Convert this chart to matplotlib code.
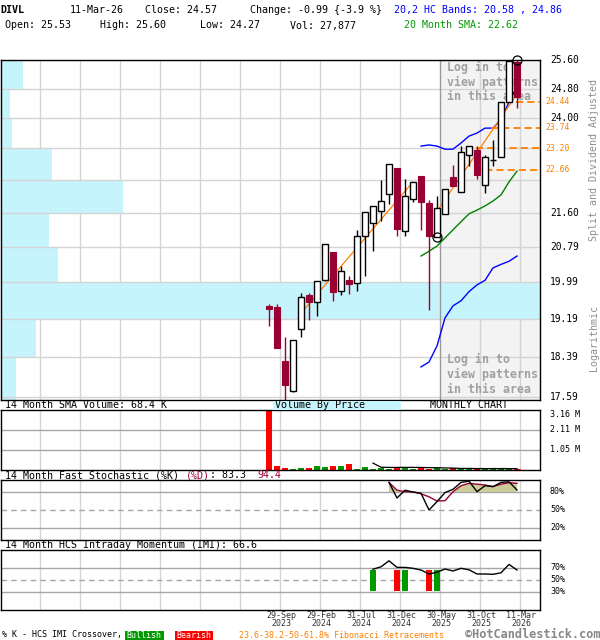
import numpy as np
import matplotlib
matplotlib.use("Agg")
import matplotlib.pyplot as plt
from matplotlib.patches import Rectangle
from matplotlib.ticker import NullLocator
from matplotlib.transforms import blended_transform_factory as blend

W, H = 600, 640
MONO = "DejaVu Sans Mono"
MAROON = "#990033"
UPVOL = "#009a00"
DNVOL = "#ff0000"
ORANGE = "#ff8000"
GRID = "#d4d4d4"
GRID2 = "#a6a6a6"
VBP_COLOR = "#c6f4fc"

# ---- DIVL monthly bars, Aug-2023 .. Mar-2026 ----
months = ["Aug-23", "Sep-23", "Oct-23", "Nov-23", "Dec-23", "Jan-24", "Feb-24", "Mar-24",
          "Apr-24", "May-24", "Jun-24", "Jul-24", "Aug-24", "Sep-24", "Oct-24", "Nov-24",
          "Dec-24", "Jan-25", "Feb-25", "Mar-25", "Apr-25", "May-25", "Jun-25", "Jul-25",
          "Aug-25", "Sep-25", "Oct-25", "Nov-25", "Dec-25", "Jan-26", "Feb-26", "Mar-26"]
opens = [19.47, 19.45, 18.31, 17.70, 18.97, 19.70, 19.55, 20.03, 20.67, 19.80, 20.04, 19.98,
         21.04, 21.35, 21.63, 22.05, 22.70, 21.17, 21.92, 22.50, 21.83, 21.03, 21.56, 22.48,
         22.09, 23.03, 23.16, 22.27, 22.90, 22.97, 24.44, 25.53]
highs = [19.51, 19.51, 18.80, 18.75, 19.74, 19.74, 20.01, 20.86, 20.67, 20.36, 20.13, 21.19,
         21.61, 21.75, 22.40, 22.80, 22.70, 22.42, 22.35, 22.50, 21.91, 22.01, 22.17, 22.78,
         23.26, 23.26, 23.25, 23.03, 23.42, 24.42, 25.56, 25.60]
lows = [19.04, 18.58, 17.54, 17.69, 18.80, 19.17, 19.26, 20.02, 19.58, 19.71, 19.72, 19.80,
        20.13, 20.70, 21.41, 21.81, 21.05, 21.05, 21.86, 21.19, 19.38, 21.03, 21.56, 22.25,
        22.09, 22.75, 22.42, 22.08, 22.75, 22.97, 24.43, 24.27]
closes = [19.41, 18.58, 17.83, 18.74, 19.66, 19.56, 20.01, 20.85, 19.78, 20.25, 19.94, 21.05,
          21.61, 21.75, 21.87, 22.79, 21.22, 22.00, 22.34, 21.86, 21.05, 21.70, 22.17, 22.25,
          23.12, 23.26, 22.53, 22.97, 22.91, 24.42, 25.56, 24.57]
volumes_k = [3120, 210, 105, 53, 105, 105, 210, 158, 210, 210, 316, 53, 158, 53, 105, 53,
             105, 105, 55, 95, 50, 120, 45, 115, 50, 55, 48, 52, 105, 45, 95, 27.877]

# overlays (first value sits on the bar given by *_start)
band_start = 19
band_upper = [23.26, 23.29, 23.26, 23.18, 23.18, 23.34, 23.52, 23.60, 23.73, 23.73, 23.95, 24.43, 24.86]
band_lower = [18.19, 18.29, 18.62, 19.21, 19.47, 19.58, 19.78, 19.93, 20.03, 20.31, 20.39, 20.46, 20.58]
sma20 = [20.58, 20.69, 20.81, 21.00, 21.19, 21.38, 21.57, 21.66, 21.76, 21.88, 22.03, 22.35, 22.62]

vol_sma_start = 13
vol_sma_k = [361.9, 146.5, 135.3, 135.3, 139.0, 135.4, 134.7, 123.3, 120.6, 108.8, 102.0, 83.0,
             83.1, 75.3, 75.2, 75.2, 74.6, 73.9, 68.4]

stoch_start = 15
stoch_k = [96, 70, 83, 80, 78, 50, 64, 79, 84.5, 96, 98, 80.5, 90.5, 89, 96, 97, 83.3]
stoch_d = [96, 83, 80.5, 80, 77, 72, 65, 65.5, 80.5, 90.5, 94.5, 93, 91.7, 89, 93, 95.5, 94.4]

imi_start = 13
imi = [68, 72, 82, 71, 71, 69.5, 66.6, 60, 63, 68.3, 65, 69.5, 67, 60, 60, 59.5, 62, 76, 66.6]
cross_idx = [13, 16, 17, 20, 21]
cross_bullish = [True, False, True, False, True]

# volume by price, bottom band to top band
vbp_edges = [17.532, 18.39, 19.19, 19.99, 20.79, 21.60, 22.40, 23.20, 24.00, 24.80, 25.60]
vbp_volume_k = [92, 214, 3300, 348, 293, 746, 310, 67, 53, 134]

price_grid = [17.59, 18.39, 19.19, 19.99, 20.79, 21.60, 22.40, 23.20, 24.00, 24.80, 25.60]
price_labels = ["25.60", "24.80", "24.00", "21.60", "20.79", "19.99", "19.19", "18.39", "17.59"]

fib_levels = [24.44, 23.74, 23.20, 22.66]
fib_from = [30.9, 27.75, 25.9, 25.6]
fib_high_idx, fib_low_idx = 31, 21

trend_x = [(3.9, 18.0), (20.75, 31.0)]
trend_y = [(19.29, 22.35), (21.56, 24.65)]

date_idx = [1, 6, 11, 16, 21, 26, 31]
date_top = ["29-Sep", "29-Feb", "31-Jul", "31-Dec", "30-May", "31-Oct", "11-Mar"]
date_bottom = ["2023", "2024", "2024", "2024", "2025", "2025", "2026"]

# ---- layout helpers (pixel based) ----
fig = plt.figure(figsize=(W / 100, H / 100), dpi=100)
fig.patch.set_facecolor("white")

XLO, XHI = -33.5, 33.875
AX_L, AX_R = 1, 540
GRID_OFF = 0.375
grid_x = GRID_OFF + 1 + 5 * np.arange(-6, 7)
login_x = GRID_OFF + 21


def add_px_axes(t, b):
    a = fig.add_axes([AX_L / W, 1 - b / H, (AX_R - AX_L) / W, (b - t) / H])
    a.set_xlim(XLO, XHI)
    a.tick_params(left=False, bottom=False, labelleft=False, labelbottom=False,
                  which="both")
    for s in a.spines.values():
        s.set_linewidth(1.0)
        s.set_color("black")
        s.set_zorder(10)
    return a


def ptext(x, y, s, **kw):
    kw.setdefault("family", MONO)
    kw.setdefault("fontsize", 7.2)
    kw.setdefault("va", "center")
    return fig.text(x / W, 1 - y / H, s, **kw)


def pieces(x, y, parts, fs=7.2, **kw):
    cw = 0.602 * fs * 100 / 72
    for s, col in parts:
        ptext(x, y, s, color=col, fontsize=fs, **kw)
        x += cw * len(s)


def xfrac(px):
    return (px - AX_L) / (AX_R - AX_L)


idx = np.arange(len(closes))
o = np.array(opens); h = np.array(highs); l = np.array(lows); c = np.array(closes)
up = c >= o

# ---- header ----
ptext(0, 10, "DIVL", fontweight="bold")
ptext(70, 10, "11-Mar-26")
ptext(145, 10, "Close: 24.57")
ptext(249.5, 10, "Change: -0.99 {-3.9 %}")
ptext(394, 10, "20,2 HC Bands: 20.58 , 24.86", color="#0000ff")
ptext(4.6, 25.5, "Open: 25.53")
ptext(99.5, 25.5, "High: 25.60")
ptext(200, 25.5, "Low: 24.27")
ptext(290, 25.5, "Vol: 27,877")
ptext(404.5, 25.5, "20 Month SMA: 22.62", color="#009900")

# ---- price panel ----
ax = add_px_axes(60, 400)
ax.set_yscale("log")
ax.set_ylim(vbp_edges[0], 25.60)
ax.yaxis.set_minor_locator(NullLocator())
ax.yaxis.set_major_locator(NullLocator())

ax.axvspan(login_x, XHI, color="#f3f3f3", lw=0, zorder=0)
for gx in grid_x:
    if abs(gx - login_x) > 1e-6:
        ax.axvline(gx, color=GRID, lw=1.0, zorder=0.5)

vbp_tr = blend(ax.transAxes, ax.transData)
vmax = max(vbp_volume_k)
for lo, hi, v in zip(vbp_edges[:-1], vbp_edges[1:], vbp_volume_k):
    ax.add_patch(Rectangle((0, lo), v / vmax, hi - lo, transform=vbp_tr,
                           facecolor=VBP_COLOR, edgecolor="none", zorder=1))
for p in price_grid:
    ax.axhline(p, color=GRID, lw=1.0, zorder=1.5)
ax.axvline(login_x, color="#999999", lw=1.0, zorder=1.6)

for y0 in (67, 359.3):
    for k, line in enumerate(["Log in to", "view patterns", "in this area"]):
        ax.text(xfrac(447), (400 - (y0 + 15 * k)) / 340, line, transform=ax.transAxes,
                family=MONO, fontweight="bold", fontsize=8.4, color="#a0a0a0",
                va="center", ha="left", zorder=2)

# overlays
bx = idx[band_start:band_start + len(band_upper)]
ax.plot(bx, band_upper, color="#0000ff", lw=1.0, zorder=3)
ax.plot(bx, band_lower, color="#0000ff", lw=1.0, zorder=3)
ax.plot(bx, sma20, color="#008000", lw=1.0, zorder=3)
for tx, ty in zip(trend_x, trend_y):
    ax.plot(tx, ty, color=ORANGE, lw=0.9, zorder=3)
for lev, x0 in zip(fib_levels, fib_from):
    ax.plot([x0, XHI], [lev, lev], color=ORANGE, lw=1.3, dashes=(4, 2.2), zorder=3,
            clip_on=False)

# candles
ax.vlines(idx[up], l[up], h[up], color="black", lw=1.0, zorder=4)
ax.vlines(idx[~up], l[~up], h[~up], color=MAROON, lw=1.0, zorder=4)
body_lo = np.minimum(o, c)
body_h = np.maximum(np.abs(c - o), 1e-4)
ax.bar(idx[up], body_h[up], bottom=body_lo[up], width=0.7, facecolor="white",
       edgecolor="black", lw=1.0, zorder=5)
ax.bar(idx[~up], body_h[~up], bottom=body_lo[~up], width=0.7, facecolor=MAROON,
       edgecolor=MAROON, lw=0.8, zorder=5)
ax.plot([fib_high_idx], [h[fib_high_idx]], "o", mfc="none", mec="black", ms=6.5,
        mew=0.9, zorder=6, clip_on=False)
ax.plot([fib_low_idx], [l[fib_low_idx]], "o", mfc="none", mec="black", ms=6.5,
        mew=0.9, zorder=6, clip_on=False)

# price scale labels
lab_tr = blend(ax.transAxes, ax.transData)
for s in price_labels:
    ax.text(xfrac(550), float(s), s, transform=lab_tr, family=MONO, fontsize=6.9,
            va="center", ha="left", clip_on=False)
for lev in fib_levels:
    ax.text(xfrac(545), lev, f"{lev:.2f}", transform=lab_tr, family=MONO, fontsize=5.8,
            color=ORANGE, va="center", ha="left", clip_on=False)

ptext(594, 160, "Split and Dividend Adjusted", rotation=90, ha="center",
      color="#909090", fontsize=7.2)
ptext(594, 338, "Logarithmic", rotation=90, ha="center", color="#909090", fontsize=7.2)

# strip between price and volume panels
ptext(5, 405, "14 Month SMA Volume: 68.4 K")
fig.patches.append(Rectangle((273 / W, 1 - 410 / H), 128 / W, 9.5 / H,
                             transform=fig.transFigure, facecolor=VBP_COLOR,
                             edgecolor="none", zorder=0))
ptext(275, 405, "Volume By Price")
ptext(430, 405, "MONTHLY CHART")

# ---- volume panel ----
vax = add_px_axes(410, 470)
VTOP = 3160
vax.set_ylim(0, VTOP)
for gx in grid_x:
    vax.axvline(gx, color=GRID, lw=1.0, zorder=0)
for gy in (VTOP / 3, 2 * VTOP / 3):
    vax.axhline(gy, color=GRID2, lw=1.0, zorder=0.5)
vols = np.array(volumes_k)
vax.bar(idx, vols, width=0.72, color=np.where(up, UPVOL, DNVOL), edgecolor="none",
        zorder=2)
vax.bar(idx[-1:], vols[-1:], width=0.72, color=DNVOL, edgecolor=DNVOL, lw=0.6, zorder=2)
vx = idx[vol_sma_start:vol_sma_start + len(vol_sma_k)]
vax.plot(vx, vol_sma_k, color="black", lw=0.9, zorder=3)
vtr = blend(vax.transAxes, vax.transData)
for val, s in ((VTOP, "3.16 M"), (2 * VTOP / 3, "2.11 M"), (VTOP / 3, "1.05 M")):
    vax.text(xfrac(550), val, s, transform=vtr, family=MONO, fontsize=6.0,
             va="top" if val == VTOP else "center", ha="left", clip_on=False)

# ---- stochastic panel ----
pieces(5, 475.5, [("14 Month Fast Stochastic (%K) ", "black"), ("(%D)", MAROON),
                  (": 83.3  ", "black"), ("94.4", MAROON)])
sax = add_px_axes(480, 540)
sax.set_ylim(0, 100)
for gx in grid_x:
    sax.axvline(gx, color=GRID, lw=1.0, zorder=0)
sax.axhline(80, color=GRID2, lw=1.0, zorder=0.5)
sax.axhline(20, color=GRID2, lw=1.0, zorder=0.5)
sax.axhline(50, color=GRID2, lw=1.0, dashes=(4, 3), zorder=0.5)
sx = idx[stoch_start:stoch_start + len(stoch_k)]
kd = np.array(stoch_d)
sax.fill_between(sx, 80, kd, where=kd > 80, interpolate=True, color="#cccc99", lw=0,
                 zorder=1)
sax.plot(sx, stoch_d, color=MAROON, lw=1.0, zorder=2)
sax.plot(sx, stoch_k, color="black", lw=1.0, zorder=3)
str_ = blend(sax.transAxes, sax.transData)
for val in (80, 50, 20):
    sax.text(xfrac(550), val, f"{val}%", transform=str_, family=MONO, fontsize=6.0,
             va="center", ha="left", clip_on=False)

# ---- intraday momentum panel ----
ptext(5, 545.5, "14 Month HCS Intraday Momentum (IMI): 66.6")
iax = add_px_axes(550, 610)
iax.set_ylim(0, 100)
for gx in grid_x:
    iax.axvline(gx, color=GRID, lw=1.0, zorder=0)
iax.axhline(70, color=GRID2, lw=1.0, zorder=0.5)
iax.axhline(30, color=GRID2, lw=1.0, zorder=0.5)
iax.axhline(50, color=GRID2, lw=1.0, dashes=(4, 3), zorder=0.5)
ci = np.array(cross_idx)
cb = np.array(cross_bullish)
iax.bar(ci, 35, bottom=32, width=0.72, color=np.where(cb, UPVOL, DNVOL), zorder=1)
ix = idx[imi_start:imi_start + len(imi)]
iax.plot(ix, imi, color="black", lw=1.0, zorder=2)
itr = blend(iax.transAxes, iax.transData)
for val in (70, 50, 30):
    iax.text(xfrac(550), val, f"{val}%", transform=itr, family=MONO, fontsize=6.0,
             va="center", ha="left", clip_on=False)

# date axis
dtr = blend(iax.transData, iax.transAxes)
for di, t1, t2 in zip(date_idx, date_top, date_bottom):
    xd = di + GRID_OFF + 1 / 8
    iax.text(xd, (610 - 616) / 60, t1, transform=dtr, family=MONO, fontsize=6.0,
             color="#333333", ha="center", va="center", clip_on=False)
    iax.text(xd, (610 - 624) / 60, t2, transform=dtr, family=MONO, fontsize=6.0,
             color="#333333", ha="center", va="center", clip_on=False)

# ---- footer ----
ptext(2, 635, "% K - HCS IMI Crossover,", fontsize=6.0)
for x0, x1, col, s in ((125, 163.5, UPVOL, "Bullish"), (175, 213, DNVOL, "Bearish")):
    fig.patches.append(Rectangle((x0 / W, 1 - 639.5 / H), (x1 - x0) / W, 9 / H,
                                 transform=fig.transFigure, facecolor=col,
                                 edgecolor="none"))
    ptext((x0 + x1) / 2, 635, s, color="white", fontsize=6.0, ha="center")
ptext(239, 635, "23.6-38.2-50-61.8% Fibonacci Retracements", color=ORANGE, fontsize=6.0)
ptext(600, 634.5, "\u00a9HotCandlestick.com", color="#888888", fontsize=8.6,
      fontweight="bold", ha="right")

fig.savefig("out.png", dpi=100, facecolor="white")
